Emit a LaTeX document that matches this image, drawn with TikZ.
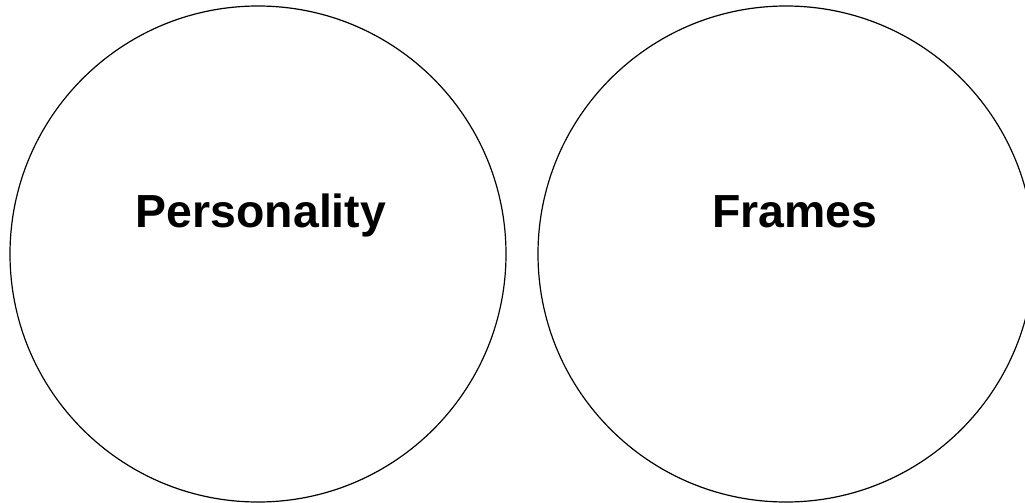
\documentclass[tikz,border=0pt]{standalone}
\usepackage{fontspec}
\setmainfont{Liberation Sans}
\begin{document}
\begin{tikzpicture}[x=1pt,y=-1pt,
  ring/.style={draw=black,line width=1.2pt,circle,minimum size=496pt,inner sep=0pt},
  title/.style={font=\bfseries\fontsize{46.4}{50}\selectfont,inner sep=0pt,anchor=base}]
\useasboundingbox (0,0) rectangle (1025,503);
\clip (0,0) rectangle (1025,503);
\node[ring] (left) at (258,254) {};
\node[ring] (right) at (786,254) {};
\node[title] (personality) at (261,227) {Personality};
\node[title] (frames) at (795,227) {Frames};
\end{tikzpicture}
\end{document}
